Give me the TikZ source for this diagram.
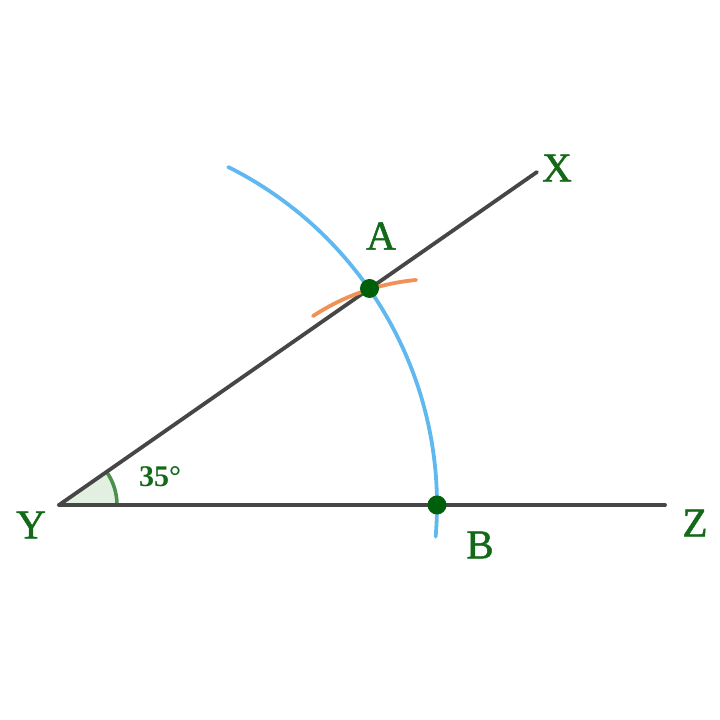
\documentclass[tikz,border=0pt]{standalone}
\usepackage{fontspec}
\setmainfont{Liberation Serif}
\newfontfamily\lblfont[FakeBold=1.2]{Liberation Serif}
\definecolor{lblgreen}{RGB}{20,105,25}
\definecolor{dotgreen}{RGB}{0,95,10}
\definecolor{linegray}{RGB}{70,70,70}
\definecolor{arcblue}{RGB}{95,185,240}
\definecolor{arcorange}{RGB}{240,145,85}
\definecolor{anglefill}{RGB}{226,240,226}
\definecolor{anglestroke}{RGB}{75,145,75}
\begin{document}
\begin{tikzpicture}[x=1pt,y=1pt,
  ray/.style={draw=linegray,line width=3.8pt,line cap=round},
  lbl/.style={text=lblgreen,font=\lblfont\fontsize{41}{43}\selectfont,inner sep=0pt},
  dot/.style={circle,fill=dotgreen,minimum size=19pt,inner sep=0pt}]
\useasboundingbox (0,0) rectangle (720,720);
\coordinate (Y) at (59,215);
\coordinate (Zend) at (665,215);
\coordinate (Xend) at (537,548);
\coordinate (A) at (369.5,431.5);
\coordinate (B) at (437,215);
% angle mark
\fill[anglefill] (Y) -- ++(0:58) arc[start angle=0,end angle=35,radius=58] -- cycle;
\draw[anglestroke,line width=3.6pt] (Y) ++(0:58) arc[start angle=0,end angle=35,radius=58];
% rays
\draw[ray] (Y) -- (Zend);
\draw[ray] (Y) -- (Xend);
% arcs
\draw[arcblue,line width=3.8pt,line cap=round] (Y) ++(-4.8:378) arc[start angle=-4.8,end angle=63.4,radius=378];
\draw[arcorange,line width=3.8pt,line cap=round] (B) ++(95.3:226) arc[start angle=95.3,end angle=123.3,radius=226];
% points
\node[dot] (Adot) at (A) {};
\node[dot] (Bdot) at (B) {};
% labels
\node[lbl] (Xl) at (557,552) {X};
\node[lbl] (Al) at (381,484) {A};
\node[lbl] (Yl) at (31,195) {Y};
\node[lbl] (Bl) at (480,175) {B};
\node[lbl] (Zl) at (695,197) {Z};
\node[text=lblgreen,font=\fontsize{30}{32}\selectfont\bfseries,inner sep=0pt] (ang) at (160,243) {35°};
\end{tikzpicture}
\end{document}
